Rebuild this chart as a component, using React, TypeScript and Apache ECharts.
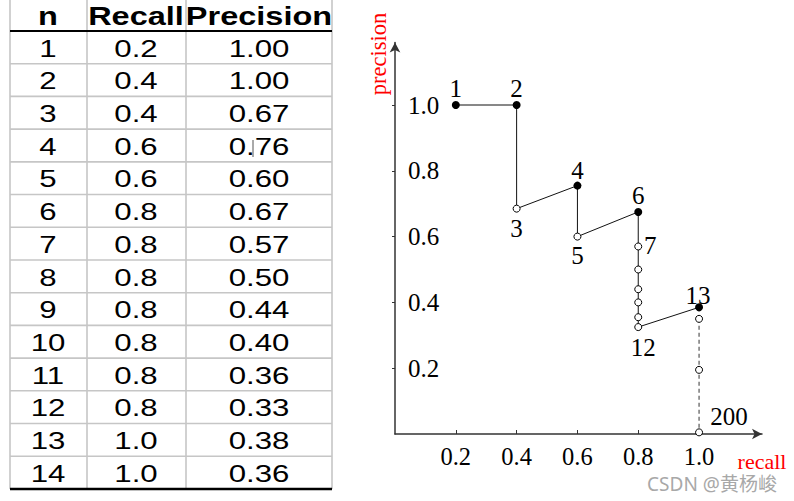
import React, { useEffect, useRef } from "react";
import * as echarts from "echarts";

// ---------- table data ----------
const tableHeaders = ["n", "Recall", "Precision"];
const tableN = ["1", "2", "3", "4", "5", "6", "7", "8", "9", "10", "11", "12", "13", "14"];
const tableRecall = ["0.2", "0.4", "0.4", "0.6", "0.6", "0.8", "0.8", "0.8", "0.8", "0.8", "0.8", "0.8", "1.0", "1.0"];
const tablePrecision = ["1.00", "1.00", "0.67", "0.76", "0.60", "0.67", "0.57", "0.50", "0.44", "0.40", "0.36", "0.33", "0.38", "0.36"];

// ---------- curve data ----------
const curveRank = ["1", "2", "3", "4", "5", "6", "7", "8", "9", "10", "11", "12", "13", "14", "", "200"];
const curveRecall = [0.2, 0.4, 0.4, 0.6, 0.6, 0.8, 0.8, 0.8, 0.8, 0.8, 0.8, 0.8, 1.0, 1.0, 1.0, 1.0];
const curvePrecision = [1.0, 1.0, 0.685, 0.755, 0.6, 0.675, 0.57, 0.5, 0.44, 0.4, 0.355, 0.325, 0.385, 0.35, 0.195, 0.005];
const curveRelevant = [true, true, false, true, false, true, false, false, false, false, false, false, true, false, false, false];
const curveShowLabel = [true, true, true, true, true, true, true, false, false, false, false, true, true, false, false, true];
const solidCount = 13; // ranks 1..13 joined by a solid line, the rest dashed

const xTicks = [0.2, 0.4, 0.6, 0.8, 1.0];
const yTicks = [0.2, 0.4, 0.6, 0.8, 1.0];

const serif = '"Liberation Serif", "Times New Roman", serif';
const sans = '"Liberation Sans", Arial, sans-serif';

const labelOffsets: Record<string, [number, number]> = {
  "1": [0, -17],
  "2": [0, -17],
  "3": [0, 19.5],
  "4": [0, -15],
  "5": [0, 19],
  "6": [0, -16],
  "7": [12, -1],
  "12": [5, 20],
  "13": [-1, -12],
  "200": [30, -16],
};

function buildTable(): any[] {
  const els: any[] = [];
  const left = 10, right = 332;
  const headerBottom = 31;
  const rowH = 32.71;
  const bottom = headerBottom + rowH * tableN.length;
  const colX = [10, 87, 186, 332];
  const colCenter = [48, 136, 259];
  const grey = "#c6c6c6";
  colX.forEach((x) => {
    els.push({ type: "line", shape: { x1: x, y1: 0, x2: x, y2: bottom }, style: { stroke: grey, lineWidth: 1.6 }, silent: true });
  });
  for (let i = 1; i < tableN.length; i++) {
    const y = headerBottom + rowH * i;
    els.push({ type: "line", shape: { x1: left, y1: y, x2: right, y2: y }, style: { stroke: grey, lineWidth: 1.6 }, silent: true });
  }
  els.push({ type: "line", shape: { x1: left, y1: headerBottom, x2: right, y2: headerBottom }, style: { stroke: "#000", lineWidth: 2 }, silent: true, z: 5 });
  els.push({ type: "line", shape: { x1: left, y1: bottom, x2: right, y2: bottom }, style: { stroke: "#000", lineWidth: 2.5 }, silent: true, z: 5 });

  tableHeaders.forEach((h, c) => {
    els.push({
      type: "text", x: colCenter[c], y: 16.5, scaleX: 1.3, z: 6,
      style: { text: h, x: 0, y: 0, align: "center", verticalAlign: "middle", font: `bold 25px ${sans}`, fill: "#000" },
    });
  });
  const cols = [tableN, tableRecall, tablePrecision];
  for (let r = 0; r < tableN.length; r++) {
    const cy = headerBottom + rowH * r + rowH / 2 + 1;
    cols.forEach((col, c) => {
      els.push({
        type: "text", x: colCenter[c], y: cy, scaleX: 1.3, z: 6,
        style: { text: col[r], x: 0, y: 0, align: "center", verticalAlign: "middle", font: `24px ${sans}`, fill: "#000" },
      });
    });
  }
  // cursor-like artefact in "0.76"
  els.push({ type: "line", shape: { x1: 253, y1: 140, x2: 253, y2: 157 }, style: { stroke: "#555", lineWidth: 1 }, silent: true, z: 6 });
  return els;
}

function pointItem(i: number) {
  const rank = curveRank[i];
  const item: any = { value: [curveRecall[i], curvePrecision[i]] };
  if (curveShowLabel[i]) {
    item.label = {
      show: true,
      position: "inside",
      formatter: rank,
      offset: labelOffsets[rank] || [0, 0],
      color: "#000",
      fontFamily: serif,
      fontSize: 25,
    };
  }
  return item;
}

export default function App() {
  const ref = useRef<HTMLDivElement>(null);
  useEffect(() => {
    if (!ref.current) return;
    const chart = echarts.init(ref.current, undefined, { renderer: "svg" });
    const idx = curveRecall.map((_, i) => i);
    const solid = idx.slice(0, solidCount).map((i) => [curveRecall[i], curvePrecision[i]]);
    const dashed = idx.slice(solidCount).map((i) => [curveRecall[i], curvePrecision[i]]);
    const filled = idx.filter((i) => curveRelevant[i]).map(pointItem);
    const open = idx.filter((i) => !curveRelevant[i]).map(pointItem);

    const axisColor = "#333";
    chart.setOption({
      animation: false,
      backgroundColor: "#fff",
      grid: { left: 395, top: 42.5, width: 367, height: 391.5 },
      xAxis: {
        type: "value",
        min: 0,
        max: 1.207,
        splitLine: { show: false },
        axisLine: { show: true, symbol: ["none", "arrow"], symbolSize: [8, 10], lineStyle: { color: axisColor, width: 1.5 } },
        axisTick: { show: true, inside: true, length: 4, customValues: xTicks, lineStyle: { color: axisColor } },
        axisLabel: {
          customValues: xTicks,
          formatter: (v: number) => v.toFixed(1),
          color: "#000",
          fontFamily: serif,
          fontSize: 24.5,
          margin: 10,
        },
      },
      yAxis: {
        type: "value",
        min: 0,
        max: 1.19,
        splitLine: { show: false },
        axisLine: { show: true, symbol: ["none", "arrow"], symbolSize: [8, 10], lineStyle: { color: axisColor, width: 1.5 } },
        axisTick: { show: true, length: 3, customValues: yTicks, lineStyle: { color: axisColor } },
        axisLabel: {
          inside: true,
          customValues: yTicks,
          formatter: (v: number) => v.toFixed(1),
          color: "#000",
          fontFamily: serif,
          fontSize: 25,
          margin: 13,
        },
      },
      series: [
        {
          type: "line",
          data: solid,
          symbol: "none",
          lineStyle: { color: "#111", width: 1 },
          z: 2,
        },
        {
          type: "line",
          data: dashed,
          symbol: "none",
          lineStyle: { color: "#555", width: 1.2, type: [4, 3] },
          z: 2,
        },
        {
          type: "scatter",
          data: open,
          symbol: "circle",
          symbolSize: 7,
          itemStyle: { color: "#fff", borderColor: "#000", borderWidth: 1, opacity: 1 },
          z: 3,
        },
        {
          type: "scatter",
          data: filled,
          symbol: "circle",
          symbolSize: 8,
          itemStyle: { color: "#000", opacity: 1 },
          z: 4,
        },
      ],
      graphic: [
        ...buildTable(),
        {
          type: "text", x: 378, y: 54, rotation: Math.PI / 2, z: 10,
          style: { text: "precision", x: 0, y: 0, align: "center", verticalAlign: "middle", font: `22.5px ${serif}`, fill: "#ff0000" },
        },
        {
          type: "text", x: 762, y: 461, z: 10,
          style: { text: "recall", x: 0, y: 0, align: "center", verticalAlign: "middle", font: `22px ${serif}`, fill: "#ff0000" },
        },
        {
          type: "text", x: 712, y: 483.5, z: 10,
          style: { text: "CSDN @黄杨峻", x: 0, y: 0, align: "center", verticalAlign: "middle", font: `19px "Noto Sans", "Noto Sans CJK SC", sans-serif`, fill: "#a8a8a8" },
        },
      ],
    });
    return () => chart.dispose();
  }, []);
  return <div ref={ref} style={{ position: "fixed", left: 0, top: 0, width: 794, height: 501 }} />;
}
